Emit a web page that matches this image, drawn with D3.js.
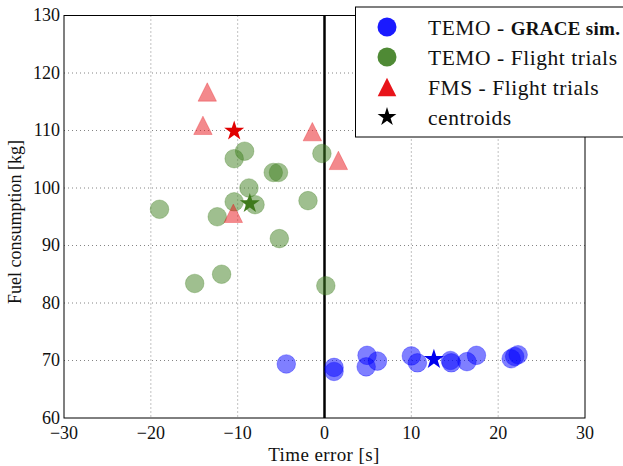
<!DOCTYPE html>
<html><head><meta charset="utf-8">
<script src="https://cdn.jsdelivr.net/npm/d3@7"></script>
<style>body{margin:0;background:#fff}svg{display:block}text{font-family:"Liberation Serif","DejaVu Serif",serif;fill:#111}</style>
</head><body>
<svg id="c" width="623" height="466"></svg>
<script>
const xTicks=[-30,-20,-10,0,10,20,30];
const yTicks=[60,70,80,90,100,110,120,130];
const graceX=[-4.4,1.1,1.1,4.9,4.8,6.1,10.0,10.7,14.5,14.6,16.4,17.5,21.5,21.9,22.3];
const graceY=[69.4,68.8,68.1,70.9,68.9,69.9,70.8,69.6,70.0,69.6,69.8,70.9,70.3,70.7,71.0];
const flightX=[-9.2,-10.4,-5.9,-5.3,-0.3,-8.7,-10.4,-8.0,-19.0,-12.35,-1.9,-5.2,-11.85,-14.95,0.15];
const flightY=[106.4,105.1,102.7,102.7,106.0,100.0,97.6,97.1,96.3,95.0,97.8,91.2,85.0,83.4,83.0];
const fmsX=[-13.5,-14.0,-1.4,1.6,-10.5];
const fmsY=[116.7,110.9,109.8,104.8,95.6];
const centroidX=[12.6,-8.6,-10.4];
const centroidY=[70.2,97.3,109.9];
const centroidColor=["#0000ee","#3f7a1c","#e00000"];
const legendLabels=[["TEMO - ","GRACE sim."],["TEMO - Flight trials",""],["FMS - Flight trials",""],["centroids",""]];

const svg=d3.select("#c");
const L=64,R=585,T=15.5,B=418;
const x=d3.scaleLinear().domain([-30,30]).range([L,R]);
const y=d3.scaleLinear().domain([60,130]).range([B,T]);

// grid
const g=svg.append("g");
g.selectAll("line.vx").data(xTicks.slice(1,-1)).join("line")
 .attr("x1",d=>x(d)).attr("x2",d=>x(d)).attr("y1",T).attr("y2",B)
 .attr("stroke","#666").attr("stroke-width",0.8).attr("stroke-dasharray","1,3");
g.selectAll("line.hy").data(yTicks.slice(1,-1)).join("line")
 .attr("y1",d=>y(d)).attr("y2",d=>y(d)).attr("x1",L).attr("x2",R)
 .attr("stroke","#666").attr("stroke-width",0.8).attr("stroke-dasharray","1,3");

// zero line
svg.append("line").attr("x1",x(0)).attr("x2",x(0)).attr("y1",T).attr("y2",B)
 .attr("stroke","#000").attr("stroke-width",2.5);

const tri=(cx,cy,h)=>`M${cx},${cy-h}L${cx+h},${cy+h}L${cx-h},${cy+h}Z`;

// flight trials green
svg.append("g").selectAll("circle").data(flightX).join("circle")
 .attr("cx",d=>x(d)).attr("cy",(d,i)=>y(flightY[i])).attr("r",9.3)
 .attr("fill","#3f7f1f").attr("fill-opacity",0.5).attr("stroke","#3f7f1f").attr("stroke-opacity",0.3);
// grace blue
svg.append("g").selectAll("circle").data(graceX).join("circle")
 .attr("cx",d=>x(d)).attr("cy",(d,i)=>y(graceY[i])).attr("r",9.3)
 .attr("fill","#0000ff").attr("fill-opacity",0.5).attr("stroke","#0000ff").attr("stroke-opacity",0.3);
// fms red
svg.append("g").selectAll("path").data(fmsX).join("path")
 .attr("d",(d,i)=>tri(x(d),y(fmsY[i]),9.2))
 .attr("fill","#e8141a").attr("fill-opacity",0.5).attr("stroke","#e8141a").attr("stroke-opacity",0.3);
// centroids
const star=d3.symbol().type(d3.symbolStar).size(125);
svg.append("g").selectAll("path").data(centroidX).join("path")
 .attr("d",star).attr("transform",(d,i)=>`translate(${x(d)},${y(centroidY[i])})`)
 .attr("fill",(d,i)=>centroidColor[i]);

// box
svg.append("rect").attr("x",L).attr("y",T).attr("width",R-L).attr("height",B-T)
 .attr("fill","none").attr("stroke","#000").attr("stroke-width",1);

// tick labels
svg.append("g").selectAll("text").data(yTicks).join("text")
 .attr("x",L-4).attr("y",d=>y(d)).attr("dy","0.33em").attr("text-anchor","end")
 .attr("font-size",18).text(d=>d);
svg.append("g").selectAll("text").data(xTicks).join("text")
 .attr("x",d=>x(d)).attr("y",B+21).attr("text-anchor","middle")
 .attr("font-size",18).text(d=>d<0?"\u2212"+Math.abs(d):d);

// axis labels
svg.append("text").attr("x",324).attr("y",461).attr("text-anchor","middle").attr("font-size",19).attr("letter-spacing",0.4).text("Time error [s]");
svg.append("text").attr("transform","translate(21,222) rotate(-90)").attr("text-anchor","middle").attr("font-size",18).text("Fuel consumption [kg]");

// legend
const lg=svg.append("g");
lg.append("rect").attr("x",355.5).attr("y",7).attr("width",280).attr("height",130)
 .attr("fill","#fff").attr("stroke","#000").attr("stroke-width",1);
const rows=[27,57,87,117], mx=387, tx=428;
lg.append("circle").attr("cx",mx).attr("cy",rows[0]).attr("r",9.5).attr("fill","#1a1aff");
lg.append("circle").attr("cx",mx).attr("cy",rows[1]).attr("r",9.5).attr("fill","#4f8a35");
lg.append("path").attr("d",tri(mx,rows[2],9.3)).attr("fill","#e8141a");
lg.append("path").attr("d",d3.symbol().type(d3.symbolStar).size(110)).attr("transform",`translate(${mx},${rows[3]})`).attr("fill","#000");
legendLabels.forEach((lb,i)=>{
  const t=lg.append("text").attr("x",tx).attr("y",rows[i]).attr("dy","0.35em").attr("font-size",21.5).attr("letter-spacing",0.55);
  t.append("tspan").text(lb[0]);
  if(lb[1]) t.append("tspan").attr("font-weight","bold").attr("font-size",19).attr("letter-spacing",0.3).text(lb[1]);
});
</script>
</body></html>
